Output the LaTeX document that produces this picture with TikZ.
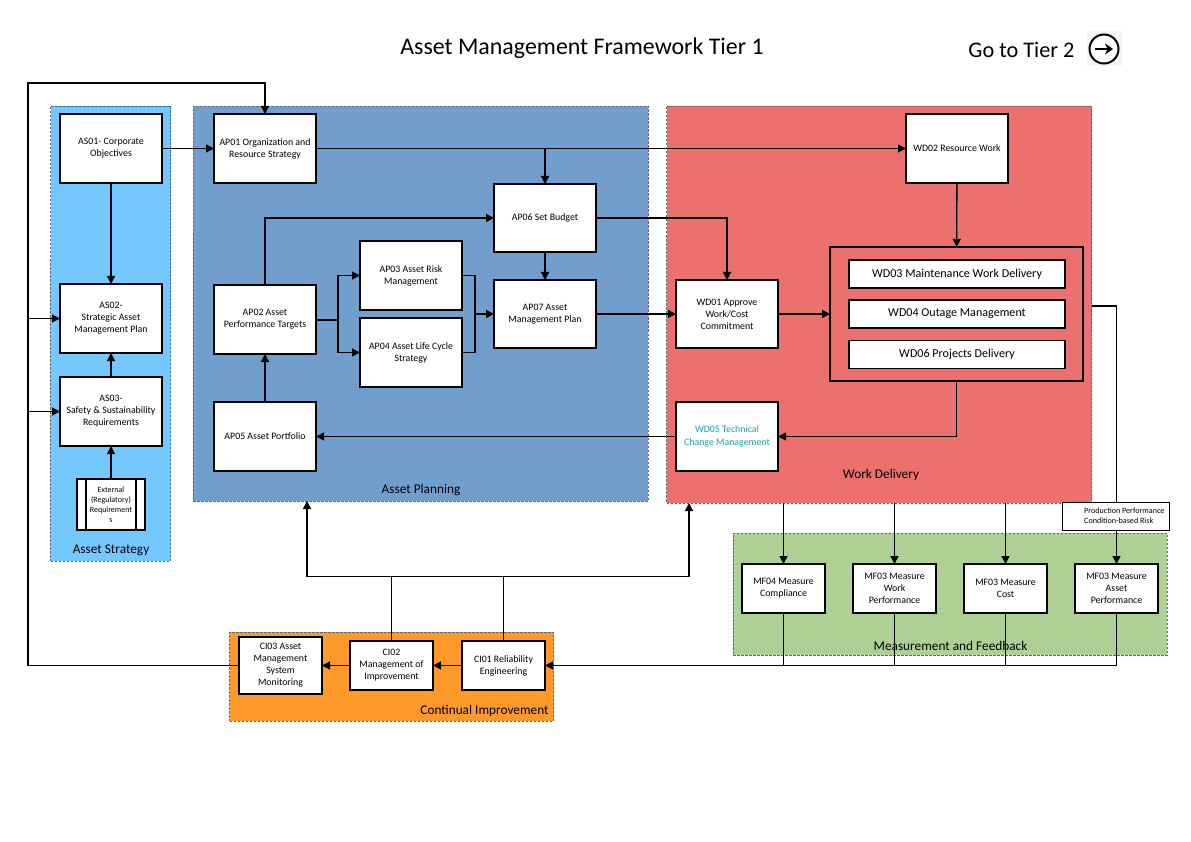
\documentclass[tikz,border=0pt]{standalone}
\usepackage{fontspec}
\setmainfont{Carlito}
\usetikzlibrary{arrows.meta}
\definecolor{strategyBlue}{RGB}{117,200,255}
\definecolor{planningBlue}{RGB}{114,158,206}
\definecolor{workRed}{RGB}{236,112,110}
\definecolor{measureGreen}{RGB}{175,208,149}
\definecolor{improveOrange}{RGB}{255,153,43}
\definecolor{techTeal}{RGB}{30,160,170}
\tikzset{
    region/.style={draw=black!60, dashed, line width=0.7pt, dash pattern=on 2.5pt off 1.5pt, inner sep=0pt, outer sep=0pt},
    taskbox/.style={draw=black, fill=white, line width=1.3pt, align=center, font=\fontsize{9.85}{12}\selectfont, inner sep=0pt, outer sep=0pt, minimum width=102pt, minimum height=69pt, execute at begin node={\\[-4pt]}},
    smallbox/.style={taskbox, minimum width=83pt, minimum height=49pt},
    widebox/.style={taskbox, font=\fontsize{12.1}{14}\selectfont, minimum width=216pt, minimum height=28pt},
    regionlabel/.style={font=\fontsize{13.3}{15}\selectfont, inner sep=0pt},
    flow/.style={draw=black, line width=1.3pt, -{Triangle[length=8pt,width=8pt]}},
    plainflow/.style={draw=black, line width=1.3pt}
}
\begin{document}
\begin{tikzpicture}[x=1pt,y=-1pt]
    \useasboundingbox (0,0) rectangle (1191,842);

    % Regions
    \node[region, fill=strategyBlue, draw=black!45!strategyBlue, minimum width=120pt, minimum height=455pt] (strategy) at (110.5,333.5) {};
    \node[region, fill=planningBlue, minimum width=455pt, minimum height=395pt] (planning) at (420.5,303.5) {};
    \node[region, fill=workRed, minimum width=425pt, minimum height=397pt] (work) at (879,304.5) {};
    \node[region, fill=measureGreen, minimum width=434pt, minimum height=122pt] (measure) at (950,594) {};
    \node[region, fill=improveOrange, minimum width=324pt, minimum height=89pt] (improve) at (391.5,676.5) {};

    % Titles
    \node[font=\fontsize{23.9}{26}\selectfont, inner sep=0pt] (title) at (582,48) {Asset Management Framework Tier 1};
    \node[font=\fontsize{22.3}{24}\selectfont, inner sep=0pt] (goTier) at (1021.5,50) {Go to Tier 2};
    \node[fill=black!4, minimum size=35pt, inner sep=0pt] (goSquare) at (1104,49) {};
    \node[draw=black, line width=2pt, circle, minimum size=29pt, inner sep=0pt, fill=white] (goIcon) at (1104,49) {};
    \draw[line width=2.4pt, -{Stealth[length=8pt,width=11pt]}] (1095,49) -- (1113,49);

    % Asset strategy
    \node[taskbox] (as01) at (111,148.5) {AS01- Corporate\\Objectives};
    \node[taskbox] (as02) at (111,318.5) {AS02-\\Strategic Asset\\Management Plan};
    \node[taskbox] (as03) at (111,411.5) {AS03-\\Safety \& Sustainability\\Requirements};
    \node[taskbox, minimum width=68pt, minimum height=51pt] (extOuter) at (111,504.5) {};
    \node[taskbox, font=\fontsize{8}{10}\selectfont, minimum width=50pt, minimum height=51pt] (external) at (111,504.5) {External\\(Regulatory)\\Requirement\\s};
    \node[regionlabel] (strategyLabel) at (111,550.5) {Asset Strategy};

    % Asset planning
    \node[taskbox] (ap01) at (265,148.5) {AP01 Organization and\\Resource Strategy};
    \node[taskbox] (ap02) at (265,319.5) {AP02 Asset\\Performance Targets};
    \node[taskbox] (ap03) at (411,275.5) {AP03 Asset Risk\\Management};
    \node[taskbox] (ap04) at (411,352.5) {AP04 Asset Life Cycle\\Strategy};
    \node[taskbox] (ap05) at (265,436.5) {AP05 Asset Portfolio};
    \node[taskbox, minimum height=68pt] (ap06) at (545,218) {AP06 Set Budget};
    \node[taskbox, minimum height=68pt] (ap07) at (545,314) {AP07 Asset\\Management Plan};
    \node[regionlabel] (planningLabel) at (421,490.5) {Asset Planning};

    % Work delivery
    \node[taskbox] (wd02) at (957,148.5) {WD02 Resource Work};
    \node[taskbox, minimum height=68pt] (wd01) at (727,314) {WD01 Approve\\Work/Cost\\Commitment};
    \node[taskbox, text=techTeal] (wd05) at (727,436.5) {WD05 Technical\\[1pt]Change Management};
    \node[draw=black, line width=1.3pt, inner sep=0pt, outer sep=0pt, minimum width=253pt, minimum height=134pt] (wdGroup) at (956.5,314) {};
    \node[widebox] (wd03) at (957,274) {WD03 Maintenance Work Delivery};
    \node[widebox] (wd04) at (957,314) {WD04 Outage Management};
    \node[widebox] (wd06) at (957,354.5) {WD06 Projects Delivery};
    \node[regionlabel] (workLabel) at (881,474.5) {Work Delivery};

    % Measurement and feedback
    \node[smallbox] (mf04) at (783.5,588.5) {MF04 Measure\\Compliance};
    \node[smallbox] (mf03w) at (894.5,588.5) {MF03 Measure\\Work\\Performance};
    \node[smallbox] (mf03c) at (1005.5,588.5) {MF03 Measure\\Cost};
    \node[smallbox] (mf03a) at (1116.5,588.5) {MF03 Measure\\Asset\\Performance};
    \node[regionlabel] (measureLabel) at (950.5,645.5) {Measurement and Feedback};

    % Continual improvement
    \node[smallbox] (ci01) at (503.5,665.5) {CI01 Reliability\\Engineering};
    \node[smallbox] (ci02) at (391.5,665.5) {CI02\\Management of\\Improvement};
    \node[smallbox, minimum height=57pt] (ci03) at (280.5,665.5) {CI03 Asset\\Management\\System\\Monitoring};
    \node[regionlabel] (improveLabel) at (484.5,710.5) {Continual Improvement};

    % Coordinates for the junctions
    \coordinate (loopTop) at (28,83);
    \coordinate (loopBottom) at (28,665.5);
    \coordinate (splitRisk) at (338,320);
    \coordinate (mergeRisk) at (475,314);
    \coordinate (busCI) at (307,576.5);
    \coordinate (busCIright) at (689,576.5);
    \coordinate (feedback) at (1116.5,665.5);
    \coordinate (workOut) at (1116.5,306);

    % Strategy flows
    \draw[flow] (as01) -- (as02);
    \draw[flow] (as03) -- (as02);
    \draw[flow] (external) -- (as03);
    \draw[flow] (as01) -- (ap01);

    % Outer loop
    \draw[flow] (ci03.west) -- (loopBottom) -- (loopTop) -- (loopTop -| ap01.north) -- (ap01.north);
    \draw[flow] (loopTop |- as02.west) -- (as02.west);
    \draw[flow] (loopTop |- as03.west) -- (as03.west);

    % Planning flows
    \draw[flow] (ap05) -- (ap02);
    \draw[flow] (ap02.north) |- (ap06.west);
    \draw[plainflow] (ap02.east |- splitRisk) -- (splitRisk);
    \draw[flow] (splitRisk) |- (ap03.west);
    \draw[flow] (splitRisk) |- (ap04.west);
    \draw[plainflow] (ap03.east) -| (mergeRisk) |- (ap04.east);
    \draw[flow] (mergeRisk) -- (ap07.west);
    \draw[flow] (ap06) -- (ap07);
    \draw[flow] (ap01) -- (wd02);
    \draw[flow] (ap06.north |- ap01.east) -- (ap06.north);

    % Work flows
    \draw[flow] (ap06.east) -| (wd01.north);
    \draw[flow] (ap07) -- (wd01);
    \draw[flow] (wd01) -- (wdGroup);
    \draw[flow] (wd02) -- (wdGroup);
    \draw[flow] (wdGroup.south) |- (wd05.east);
    \draw[flow] (wd05) -- (ap05);

    % Measurement flows
    \foreach \mfbox in {mf04,mf03w,mf03c} {
        \draw[flow] (work.south -| \mfbox.north) -- (\mfbox.north);
        \draw[plainflow] (\mfbox.south) -- (\mfbox.south |- feedback);
    }
    \draw[flow] (work.east |- workOut) -- (workOut) -- (mf03a.north);
    \draw[plainflow] (mf03a.south) -- (feedback);
    \draw[flow] (feedback) -- (ci01.east);
    \node[draw=black, fill=white, line width=1pt, inner sep=0pt, outer sep=0pt, minimum width=107pt, minimum height=28pt] (risk) at (1115.5,516) {};
    \node[font=\fontsize{8.1}{10}\selectfont, align=left, inner sep=0pt, anchor=west] (riskText) at (1084,516) {Production Performance\\Condition-based Risk};

    % Improvement flows
    \draw[flow] (ci01) -- (ci02);
    \draw[flow] (ci02) -- (ci03);
    \draw[plainflow] (ci01.north) -- (ci01.north |- busCI);
    \draw[plainflow] (ci02.north) -- (ci02.north |- busCI);
    \draw[flow] (busCI) -- (busCI |- planning.south);
    \draw[flow] (busCI) -- (busCIright) -- (busCIright |- work.south);
\end{tikzpicture}
\end{document}
